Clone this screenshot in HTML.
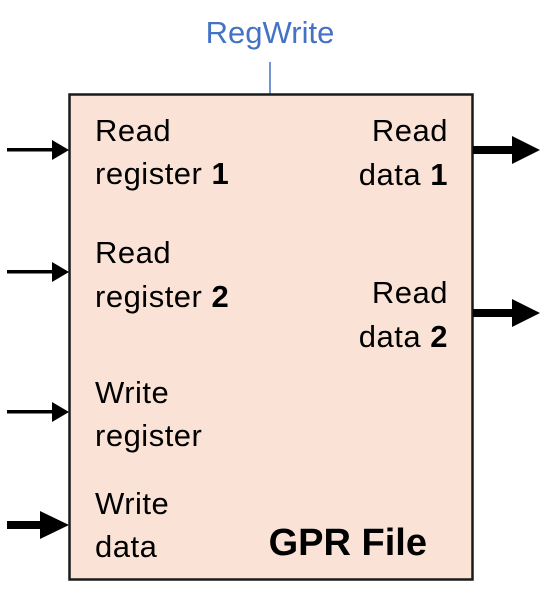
<!DOCTYPE html>
<html><head><style>
body{margin:0;width:547px;height:592px;background:#fff;overflow:hidden}
svg text{font-family:"Liberation Sans",sans-serif;font-size:31px;letter-spacing:0.5px;fill:#000}
</style></head><body>
<svg width="547" height="592" viewBox="0 0 547 592">
<text x="270" y="43" text-anchor="middle" style="fill:#4472c4;font-size:31px;letter-spacing:0">RegWrite</text>
<line x1="270" y1="62" x2="270" y2="94" stroke="#4472c4" stroke-width="1.5"/>
<rect x="69.5" y="94.5" width="403" height="485" fill="#fae3d6" stroke="#1a1a1a" stroke-width="2.5"/>
<g fill="#000">
<rect x="7" y="148" width="50" height="3.5"/><polygon points="52,140 69,150 52,160"/>
<rect x="7" y="270" width="50" height="3.5"/><polygon points="52,262 69,272 52,282"/>
<rect x="7" y="410" width="50" height="3.5"/><polygon points="52,402 69,412 52,422"/>
<rect x="7" y="521" width="36" height="8"/><polygon points="40,511 69,525 40,539"/>
<rect x="473" y="146" width="44" height="8"/><polygon points="512,136 540,150 512,164"/>
<rect x="473" y="309" width="44" height="8"/><polygon points="512,299 540,313 512,327"/>
</g>
<text x="95" y="141">Read</text>
<text x="95" y="184">register <tspan font-weight="bold">1</tspan></text>
<text x="95" y="263">Read</text>
<text x="95" y="307">register <tspan font-weight="bold">2</tspan></text>
<text x="95" y="403">Write</text>
<text x="95" y="446">register</text>
<text x="95" y="514">Write</text>
<text x="95" y="557">data</text>
<text x="448" y="141" text-anchor="end">Read</text>
<text x="448" y="185" text-anchor="end">data <tspan font-weight="bold">1</tspan></text>
<text x="448" y="303" text-anchor="end">Read</text>
<text x="448" y="347" text-anchor="end">data <tspan font-weight="bold">2</tspan></text>
<text x="427" y="555" text-anchor="end" style="font-size:38px;font-weight:bold;letter-spacing:0">GPR File</text>
</svg>
</body></html>
